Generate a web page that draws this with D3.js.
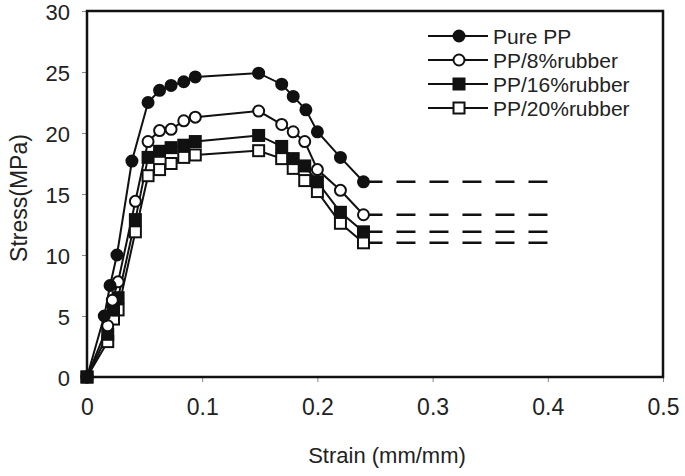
<!DOCTYPE html>
<html lang="en">
<head>
<meta charset="UTF-8">
<title>Stress-strain</title>
<script src="https://cdn.jsdelivr.net/npm/d3@7"></script>
<style>
  body { margin: 0; background: #fff; }
  text { font-family: Arial, "Liberation Sans", sans-serif; fill: #222; }
</style>
</head>
<body>
<script>
// series names and markers
const seriesNames = ["Pure PP", "PP/8%rubber", "PP/16%rubber", "PP/20%rubber"]
const markerShapes = ["circle", "circle", "square", "square"]
const markerFilled = [true, false, true, false]

// strain (mm/mm)
const strainPure = [0, 0.015, 0.020, 0.026, 0.039, 0.053, 0.063, 0.073, 0.084, 0.094, 0.149, 0.169, 0.179, 0.190, 0.200, 0.220, 0.240]
const strain8 = [0, 0.018, 0.022, 0.027, 0.042, 0.053, 0.063, 0.073, 0.084, 0.094, 0.149, 0.169, 0.179, 0.189, 0.200, 0.220, 0.240]
const strain16 = [0, 0.018, 0.023, 0.027, 0.042, 0.053, 0.063, 0.073, 0.084, 0.094, 0.149, 0.169, 0.179, 0.189, 0.200, 0.220, 0.240]
const strain20 = [0, 0.018, 0.023, 0.027, 0.042, 0.053, 0.063, 0.073, 0.084, 0.094, 0.149, 0.169, 0.179, 0.189, 0.200, 0.220, 0.240]

// stress (MPa)
const stressPure = [0, 5.0, 7.5, 10.0, 17.7, 22.5, 23.5, 23.9, 24.2, 24.6, 24.9, 24.0, 23.0, 21.9, 20.1, 18.0, 16.0]
const stress8 = [0, 4.2, 6.3, 7.8, 14.4, 19.3, 20.2, 20.3, 21.0, 21.3, 21.8, 20.7, 20.1, 19.3, 17.0, 15.3, 13.3]
const stress16 = [0, 3.5, 5.5, 6.5, 12.9, 18.0, 18.5, 18.8, 19.0, 19.3, 19.8, 18.9, 17.9, 17.3, 16.0, 13.5, 11.9]
const stress20 = [0, 2.9, 4.75, 5.5, 11.9, 16.5, 17.0, 17.5, 18.0, 18.2, 18.55, 17.9, 17.1, 16.1, 15.2, 12.6, 11.0]

// dashed plateau runs out to this strain
const plateauEnd = 0.4

const xTicks = [0, 0.1, 0.2, 0.3, 0.4, 0.5]
const yTicks = [0, 5, 10, 15, 20, 25, 30]

const strains = [strainPure, strain8, strain16, strain20]
const stresses = [stressPure, stress8, stress16, stress20]
const series = seriesNames.map((name, i) => ({
    name: name,
    shape: markerShapes[i],
    filled: markerFilled[i],
    points: strains[i].map((s, j) => ({x: s, y: stresses[i][j]}))
}))

const w = 685, h = 476
const pLeft = 87, pRight = 663, pTop = 11, pBottom = 377

const svg = d3.select("body").append("svg").attr("width", w).attr("height", h)
svg.append("rect").attr("width", w).attr("height", h).attr("fill", "#fff")

const xScale = d3.scaleLinear().domain([0, 0.5]).range([pLeft, pRight])
const yScale = d3.scaleLinear().domain([0, 30]).range([pBottom, pTop])

// axes
const xAxis = d3.axisBottom(xScale).tickValues(xTicks).tickFormat(d => d === 0 ? "0" : d3.format(".1f")(d)).tickSize(5).tickPadding(17)
const yAxis = d3.axisLeft(yScale).tickValues(yTicks).tickSize(5).tickPadding(12)

const gx = svg.append("g").attr("transform", `translate(0,${pBottom})`).call(xAxis)
const gy = svg.append("g").attr("transform", `translate(${pLeft},0)`).call(yAxis)
gx.select(".domain").remove()
gy.select(".domain").remove()
svg.selectAll(".tick line").attr("stroke", "#888").attr("stroke-width", 1)
gx.selectAll(".tick text").style("font-size", "23px").attr("fill", "#222")
gy.selectAll(".tick text").style("font-size", "22px").attr("dy", "0.37em").attr("fill", "#222")

// frame
svg.append("rect")
    .attr("x", pLeft).attr("y", pTop)
    .attr("width", pRight - pLeft).attr("height", pBottom - pTop)
    .attr("fill", "none").attr("stroke", "#111").attr("stroke-width", 2.5)

// axis titles
svg.append("text")
    .attr("x", 387).attr("y", 463)
    .attr("text-anchor", "middle")
    .style("font-size", "22px")
    .text("Strain (mm/mm)")

svg.append("text")
    .attr("transform", `translate(27,198) rotate(-90)`)
    .attr("text-anchor", "middle")
    .style("font-size", "23px")
    .text("Stress(MPa)")

const line = d3.line().x(d => xScale(d.x)).y(d => yScale(d.y))

// dashed tails
series.forEach(s => {
    const last = s.points[s.points.length - 1]
    svg.append("path")
        .datum([last, {x: plateauEnd, y: last.y}])
        .attr("d", line)
        .attr("fill", "none")
        .attr("stroke", "#111")
        .attr("stroke-width", 2.5)
        .attr("stroke-dasharray", "19,14")
})

// curves
series.forEach(s => {
    svg.append("path")
        .datum(s.points)
        .attr("d", line)
        .attr("fill", "none")
        .attr("stroke", "#111")
        .attr("stroke-width", 2)
})

function drawMarker(g, shape, filled, cx, cy) {
    if (shape === "circle") {
        g.append("circle").attr("cx", cx).attr("cy", cy).attr("r", 5.5)
            .attr("fill", filled ? "#111" : "#fff").attr("stroke", "#111").attr("stroke-width", 2)
    } else {
        g.append("rect").attr("x", cx - 5.5).attr("y", cy - 5.5).attr("width", 11).attr("height", 11)
            .attr("fill", filled ? "#111" : "#fff").attr("stroke", "#111").attr("stroke-width", 2)
    }
}

// markers, back to front so pure PP sits on top
series.slice().reverse().forEach(s => {
    const g = svg.append("g")
    s.points.forEach(p => drawMarker(g, s.shape, s.filled, xScale(p.x), yScale(p.y)))
})

// legend
const legend = svg.append("g")
series.forEach((s, i) => {
    const y = 36 + i * 24
    legend.append("line").attr("x1", 428).attr("x2", 488).attr("y1", y).attr("y2", y)
        .attr("stroke", "#111").attr("stroke-width", 2)
    drawMarker(legend, s.shape, s.filled, 459, y)
    legend.append("text").attr("x", 493).attr("y", y + 7.5)
        .style("font-size", "21px")
        .text(s.name)
})
</script>
</body>
</html>
